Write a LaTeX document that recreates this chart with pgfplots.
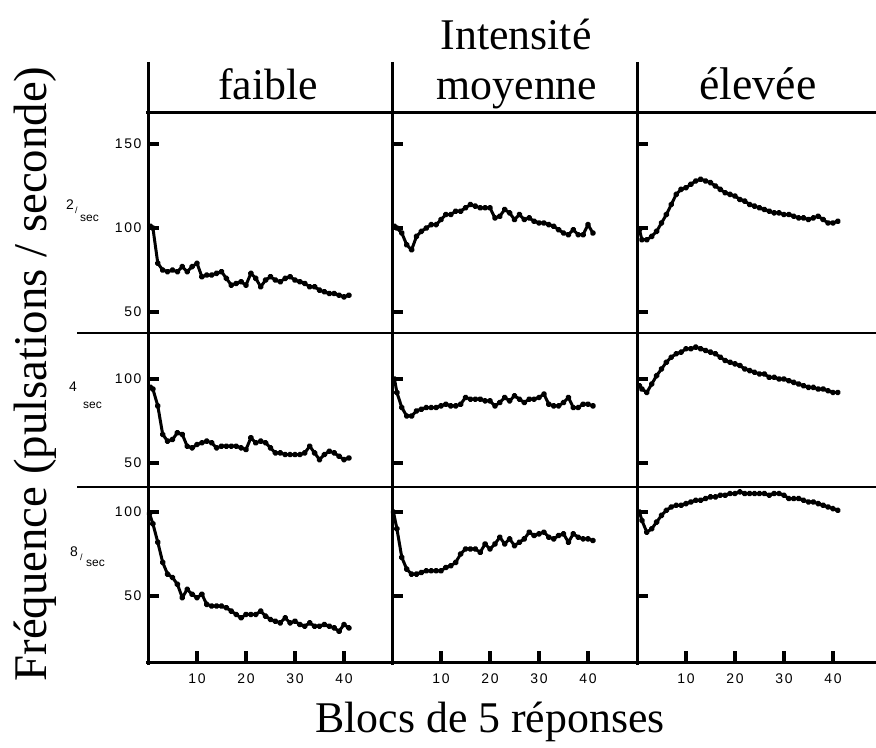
\documentclass[border=0pt]{standalone}
\usepackage{fontspec}
\setmainfont{Liberation Serif}
\setsansfont{Liberation Sans}
\newfontfamily\tickfont[LetterSpace=12]{Liberation Sans}
\usepackage{pgfplots}
\pgfplotsset{compat=1.18}
\pgfplotsset{
  panel/.style={scale only axis, anchor=south west,
    axis x line*=bottom, axis y line*=left,
    y axis line style={line width=3bp, black, -},
    major tick length=0pt,
    /pgf/number format/assume math mode=true,
    ticklabel style={font=\tickfont\fontsize{14}{14}\selectfont},
    yticklabel style={xshift=-3bp},
    xticklabel style={yshift=-7bp},
    clip=false},
  col1/.style={at={(148bp,#1)}, width=244bp, xmin=0, xmax=49.8},
  col2/.style={at={(392bp,#1)}, width=245bp, xmin=0, xmax=50, yticklabels={,,,}},
  col3/.style={at={(637bp,#1)}, width=239bp, xmin=0, xmax=48.8, yticklabels={,,,}},
  row1/.style={height=220bp, ymin=37.5, ymax=168.45, ytick={50,100,150}, xtick=\empty,
    x axis line style={line width=1.4bp, black, -}},
  row2/.style={height=154bp, ymin=35.7, ymax=127.4, ytick={50,100}, xtick=\empty,
    x axis line style={line width=1.4bp, black, -}},
  row3/.style={height=176bp, ymin=10.1, ymax=114.9, ytick={50,100}, xtick={10,20,30,40}, xticklabels={10,20,30,40},
    x axis line style={line width=3bp, black, -}},
  curve/.style={black, line width=3bp, mark=*, mark size=1.6bp, line join=round},
}
\tikzset{tk/.style={black, line width=3.5bp}}
\begin{document}
\begin{tikzpicture}[x=1bp,y=1bp]
\useasboundingbox (0,0) rectangle (876,748);
% ---------- row 1 : 2/sec ----------
\begin{axis}[panel, col1=415bp, row1]
\addplot[curve] coordinates {(0.5,101)(1,100)(2,79)(3,75)(4,74)(5,75)(6,74)(7,77)(8,74)(9,77)(10,79)(11,71)(12,72)(13,72)(14,73)(15,74)(16,70)(17,66)(18,67)(19,68)(20,66)(21,73)(22,70)(23,65)(24,69)(25,71)(26,69)(27,68)(28,70)(29,71)(30,69)(31,68)(32,67)(33,65)(34,65)(35,63)(36,62)(37,61)(38,61)(39,60)(40,59)(41,60)};
\draw[tk] (axis cs:0,50) -- (axis cs:2.3,50);
\draw[tk] (axis cs:0,100) -- (axis cs:2.3,100);
\draw[tk] (axis cs:0,150) -- (axis cs:2.3,150);
\end{axis}
\begin{axis}[panel, col2=415bp, row1]
\addplot[curve] coordinates {(0.5,101)(1,100)(2,97)(3,90)(4,87)(5,95)(6,98)(7,100)(8,102)(9,102)(10,105)(11,108)(12,108)(13,110)(14,110)(15,112)(16,114)(17,113)(18,112)(19,112)(20,112)(21,106)(22,107)(23,111)(24,109)(25,105)(26,108)(27,105)(28,106)(29,104)(30,103)(31,103)(32,102)(33,101)(34,99)(35,97)(36,96)(37,99)(38,96)(39,96)(40,102)(41,97)};
\draw[tk] (axis cs:0,50) -- (axis cs:2.3,50);
\draw[tk] (axis cs:0,100) -- (axis cs:2.3,100);
\draw[tk] (axis cs:0,150) -- (axis cs:2.3,150);
\end{axis}
\begin{axis}[panel, col3=415bp, row1]
\addplot[curve] coordinates {(0.5,99)(1,93)(2,93)(3,95)(4,98)(5,103)(6,108)(7,114)(8,120)(9,123)(10,124)(11,126)(12,128)(13,129)(14,128)(15,127)(16,125)(17,123)(18,121)(19,120)(20,119)(21,117)(22,116)(23,114)(24,113)(25,112)(26,111)(27,110)(28,109)(29,109)(30,108)(31,108)(32,107)(33,106)(34,106)(35,105)(36,106)(37,107)(38,105)(39,103)(40,103)(41,104)};
\draw[tk] (axis cs:0,50) -- (axis cs:2.3,50);
\draw[tk] (axis cs:0,100) -- (axis cs:2.3,100);
\draw[tk] (axis cs:0,150) -- (axis cs:2.3,150);
\end{axis}
% ---------- row 2 : 4/sec ----------
\begin{axis}[panel, col1=261bp, row2]
\addplot[curve] coordinates {(0.5,95)(1,94)(2,84)(3,67)(4,63)(5,64)(6,68)(7,67)(8,60)(9,59)(10,61)(11,62)(12,63)(13,62)(14,59)(15,60)(16,60)(17,60)(18,60)(19,59)(20,58)(21,65)(22,62)(23,63)(24,62)(25,59)(26,56)(27,56)(28,55)(29,55)(30,55)(31,55)(32,56)(33,60)(34,56)(35,52)(36,55)(37,57)(38,56)(39,54)(40,52)(41,53)};
\draw[tk] (axis cs:0,50) -- (axis cs:2.3,50);
\draw[tk] (axis cs:0,100) -- (axis cs:2.3,100);
\end{axis}
\begin{axis}[panel, col2=261bp, row2]
\addplot[curve] coordinates {(0.5,100)(1,92)(2,83)(3,78)(4,78)(5,81)(6,82)(7,83)(8,83)(9,83)(10,84)(11,85)(12,84)(13,84)(14,85)(15,89)(16,88)(17,88)(18,88)(19,87)(20,87)(21,84)(22,86)(23,89)(24,87)(25,90)(26,88)(27,86)(28,88)(29,88)(30,89)(31,91)(32,85)(33,84)(34,84)(35,86)(36,89)(37,83)(38,83)(39,85)(40,85)(41,84)};
\draw[tk] (axis cs:0,50) -- (axis cs:2.3,50);
\draw[tk] (axis cs:0,100) -- (axis cs:2.3,100);
\end{axis}
\begin{axis}[panel, col3=261bp, row2]
\addplot[curve] coordinates {(0.5,96)(1,94)(2,92)(3,97)(4,102)(5,106)(6,110)(7,113)(8,115)(9,116)(10,118)(11,118)(12,119)(13,118)(14,117)(15,116)(16,115)(17,113)(18,111)(19,110)(20,109)(21,108)(22,106)(23,105)(24,104)(25,103)(26,103)(27,101)(28,101)(29,100)(30,100)(31,99)(32,98)(33,97)(34,96)(35,95)(36,95)(37,94)(38,94)(39,93)(40,92)(41,92)};
\draw[tk] (axis cs:0,50) -- (axis cs:2.3,50);
\draw[tk] (axis cs:0,100) -- (axis cs:2.3,100);
\end{axis}
% ---------- row 3 : 8/sec ----------
\begin{axis}[panel, col1=85bp, row3]
\addplot[curve] coordinates {(0.3,99)(1,93)(2,82)(3,70)(4,63)(5,61)(6,57)(7,49)(8,54)(9,51)(10,49)(11,51)(12,45)(13,44)(14,44)(15,44)(16,43)(17,41)(18,39)(19,37)(20,39)(21,39)(22,39)(23,41)(24,38)(25,36)(26,35)(27,34)(28,37)(29,34)(30,35)(31,33)(32,32)(33,34)(34,32)(35,32)(36,33)(37,32)(38,31)(39,29)(40,33)(41,31)};
\draw[tk] (axis cs:0,50) -- (axis cs:2.3,50);
\draw[tk] (axis cs:0,100) -- (axis cs:2.3,100);
\end{axis}
\begin{axis}[panel, col2=85bp, row3]
\addplot[curve] coordinates {(0.3,100)(1,90)(2,73)(3,66)(4,63)(5,63)(6,64)(7,65)(8,65)(9,65)(10,65)(11,67)(12,68)(13,70)(14,75)(15,78)(16,78)(17,78)(18,76)(19,81)(20,78)(21,81)(22,85)(23,81)(24,84)(25,80)(26,82)(27,84)(28,88)(29,86)(30,87)(31,88)(32,85)(33,84)(34,86)(35,87)(36,82)(37,87)(38,85)(39,84)(40,84)(41,83)};
\draw[tk] (axis cs:0,50) -- (axis cs:2.3,50);
\draw[tk] (axis cs:0,100) -- (axis cs:2.3,100);
\end{axis}
\begin{axis}[panel, col3=85bp, row3]
\addplot[curve] coordinates {(0.5,100)(1,95)(2,88)(3,90)(4,94)(5,98)(6,101)(7,103)(8,104)(9,104)(10,105)(11,106)(12,107)(13,107)(14,108)(15,109)(16,109)(17,110)(18,110)(19,111)(20,111)(21,112)(22,111)(23,111)(24,111)(25,111)(26,111)(27,110)(28,111)(29,111)(30,110)(31,108)(32,108)(33,108)(34,107)(35,106)(36,106)(37,105)(38,104)(39,103)(40,102)(41,101)};
\draw[tk] (axis cs:0,50) -- (axis cs:2.3,50);
\draw[tk] (axis cs:0,100) -- (axis cs:2.3,100);
\end{axis}
% ---------- frame ----------
\draw[line width=3bp] (148,686) -- (148,83);
\draw[line width=3bp] (392,686) -- (392,83);
\draw[line width=3bp] (637,686) -- (637,83);
\draw[line width=3bp] (146,635) -- (876,635);
\draw[line width=3bp] (146,85) -- (876,85);
\draw[line width=1.4bp] (77,415) -- (876,415);
\draw[line width=1.4bp] (77,261) -- (876,261);
% bottom tick marks (axis decoration, every 10 blocks = 49bp)
\foreach \xx in {197,246,295,344,441,490,539,588,686,735,784,833}
  \draw[tk] (\xx,85) -- (\xx,97);
% ---------- texts ----------
\node[font=\fontsize{44}{44}\selectfont, anchor=base, inner sep=0pt] at (516,698) {Intensité};
\node[font=\fontsize{44}{44}\selectfont, anchor=base, inner sep=0pt] at (268,648) {faible};
\node[font=\fontsize{44}{44}\selectfont, anchor=base, inner sep=0pt] at (517,648) {moyenne};
\node[font=\fontsize{46}{46}\selectfont, anchor=base, inner sep=0pt] at (758,648) {élevée};
\node[font=\fontsize{44}{44}\selectfont, anchor=base, inner sep=0pt] at (490,15) {Blocs de 5 réponses};
\node[font=\fontsize{47}{47}\selectfont, rotate=90, inner sep=0pt] at (35,374) {Fréquence (pulsations / seconde)};
% row labels
\node[font=\sffamily\fontsize{14}{14}\selectfont, anchor=west, inner sep=0pt] at (66,543) {2};
\node[font=\sffamily\fontsize{9}{9}\selectfont, anchor=west, inner sep=0pt] at (75,538) {/};
\node[font=\sffamily\fontsize{12}{12}\selectfont, anchor=west, inner sep=0pt] at (80,530) {sec};
\node[font=\sffamily\fontsize{14}{14}\selectfont, anchor=west, inner sep=0pt] at (69,361) {4};
\node[font=\sffamily\fontsize{12}{12}\selectfont, anchor=west, inner sep=0pt] at (83,343) {sec};
\node[font=\sffamily\fontsize{14}{14}\selectfont, anchor=west, inner sep=0pt] at (70,196) {8};
\node[font=\sffamily\fontsize{9}{9}\selectfont, anchor=west, inner sep=0pt] at (80,191) {/};
\node[font=\sffamily\fontsize{12}{12}\selectfont, anchor=west, inner sep=0pt] at (86,185) {sec};
\end{tikzpicture}
\end{document}
